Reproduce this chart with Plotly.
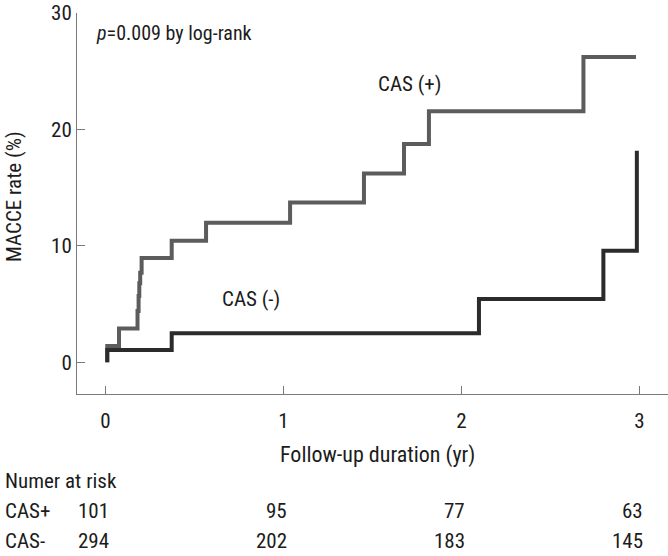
import plotly.graph_objects as go

# ---- data ----
cas_pos_t = [0.01, 0.01, 0.076, 0.18, 0.186, 0.19, 0.195, 0.203, 0.372, 0.565, 1.037, 1.452, 1.677, 1.817, 2.685, 2.98]
cas_pos_y = [0, 1.4, 2.9, 4.4, 5.7, 6.8, 7.7, 8.95, 10.44, 11.98, 13.73, 16.22, 18.74, 21.57, 26.23, 26.23]
cas_neg_t = [0.01, 0.01, 0.372, 2.098, 2.797, 2.985]
cas_neg_y = [0, 1.05, 2.49, 5.43, 9.58, 18.16]

x_ticks = [0, 1, 2, 3]
y_ticks = [0, 10, 20, 30]
risk_times = [0, 1, 2, 3]
risk_cas_pos = [101, 95, 77, 63]
risk_cas_neg = [294, 202, 183, 145]

FONT = "Liberation Sans Narrow, Roboto Condensed, Roboto, sans-serif"
TXT = "#1c1c1c"
AX = "#7a7a7a"

W, H = 668, 556
L, R, T, B = 77, 0, 13, 162
plot_w = W - L - R
plot_h = H - T - B
X_RANGE = [-0.16, 3.16]
Y_RANGE = [-2.72, 30.0]


def py(pix):
    """pixel row -> paper y"""
    return (H - B - pix) / plot_h


def px(pix):
    """pixel column -> paper x"""
    return (pix - L) / plot_w


fig = go.Figure()
fig.add_trace(go.Scatter(x=cas_pos_t, y=cas_pos_y, mode="lines", line=dict(shape="hv", color="#5c5c5c", width=4),
                         name="CAS (+)", showlegend=False, hoverinfo="skip"))
fig.add_trace(go.Scatter(x=cas_neg_t, y=cas_neg_y, mode="lines", line=dict(shape="hv", color="#2b2b2b", width=4),
                         name="CAS (-)", showlegend=False, hoverinfo="skip"))
# empty trace so the overlay axis carrying the inward x ticks is drawn
fig.add_trace(go.Scatter(x=[], y=[], xaxis="x2", yaxis="y", showlegend=False, hoverinfo="skip"))

ann = []
ann.append(dict(text="<i>p</i>=0.009 by log-rank", x=px(94), xref="paper", y=py(33), yref="paper",
                showarrow=False, xanchor="left", yanchor="middle", font=dict(size=20, color=TXT)))
ann.append(dict(text="CAS (+)", x=1.71, xref="x", y=23.9, yref="y", showarrow=False,
                xanchor="center", yanchor="middle", font=dict(size=21, color=TXT)))
ann.append(dict(text="CAS (-)", x=0.82, xref="x", y=5.4, yref="y", showarrow=False,
                xanchor="center", yanchor="middle", font=dict(size=21, color=TXT)))
ann.append(dict(text="Follow-up duration (yr)", x=1.53, xref="x", y=py(455), yref="paper", showarrow=False,
                xanchor="center", yanchor="middle", font=dict(size=22, color=TXT)))
ann.append(dict(text="MACCE rate (%)", x=px(14), xref="paper", y=py(197), yref="paper",
                showarrow=False, textangle=-90, xanchor="center", yanchor="middle", font=dict(size=21, color=TXT)))
ann.append(dict(text="Numer at risk", x=px(3), xref="paper", y=py(481), yref="paper",
                showarrow=False, xanchor="left", yanchor="middle", font=dict(size=21, color=TXT)))
for label, vals, yy in [("CAS+", risk_cas_pos, 511), ("CAS-", risk_cas_neg, 541)]:
    ann.append(dict(text=label, x=px(3), xref="paper", y=py(yy), yref="paper",
                    showarrow=False, xanchor="left", yanchor="middle", font=dict(size=21, color=TXT)))
    for t, v in zip(risk_times, vals):
        ann.append(dict(text=str(v), x=t + 0.03, xref="x", y=py(yy), yref="paper",
                        showarrow=False, xanchor="right", yanchor="middle", font=dict(size=21, color=TXT)))

fig.update_layout(
    width=W, height=H, margin=dict(l=L, r=R, t=T, b=B, pad=0),
    paper_bgcolor="white", plot_bgcolor="white",
    font=dict(family=FONT, size=21, color=TXT),
    annotations=ann,
    # main x axis: line + labels, pushed down by transparent outside ticks
    xaxis=dict(range=X_RANGE, tickvals=x_ticks, ticks="outside", ticklen=8, tickcolor="rgba(0,0,0,0)",
               showline=True, linecolor=AX, linewidth=1, showgrid=False, zeroline=False,
               tickfont=dict(size=21, color=TXT)),
    # overlay x axis: only the inward tick marks
    xaxis2=dict(range=X_RANGE, overlaying="x", anchor="y", side="bottom", tickvals=x_ticks,
                ticks="inside", ticklen=8, tickcolor=AX, tickwidth=1, showticklabels=False,
                showline=False, showgrid=False, zeroline=False),
    yaxis=dict(range=Y_RANGE, tickvals=y_ticks, ticks="inside", ticklen=8, tickcolor=AX, tickwidth=1,
               showline=True, linecolor=AX, linewidth=1, showgrid=False, zeroline=False,
               tickfont=dict(size=21, color=TXT)),
)
fig.write_html("out.html", config={"displayModeBar": False},
               post_script="document.body.style.margin='0';document.body.style.padding='0';")
